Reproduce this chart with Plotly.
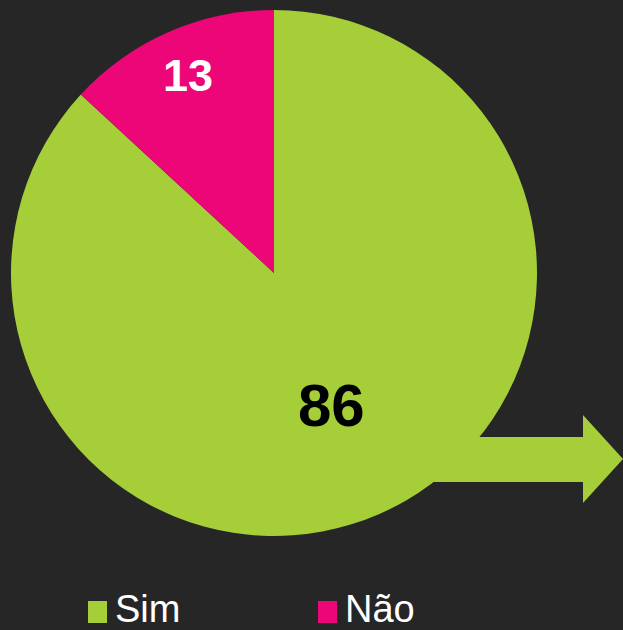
import math
import plotly.graph_objects as go

# Survey answers
labels = ["Sim", "Não"]
values = [86, 13]
colors = ["#a6ce39", "#ec0677"]
label_colors = ["#000000", "#ffffff"]
label_sizes = [60, 45]
label_radius = [0.55, 0.82]  # fraction of pie radius for the value labels

W, H = 623, 630
BG = "#262626"

# Pie geometry in pixels
cx, cy, R = 274, 273, 263


def px(x):
    return x / W


def py(y):
    return 1 - y / H


fig = go.Figure()
fig.add_trace(go.Pie(
    labels=labels,
    values=values,
    marker=dict(colors=colors, line=dict(width=0)),
    sort=False,
    direction="clockwise",
    rotation=0,
    textinfo="none",
    hoverinfo="label+value",
    showlegend=False,
    domain=dict(x=[px(cx - R), px(cx + R)], y=[py(cy + R), py(cy - R)]),
))

# Value labels at each slice's mid angle
total = sum(values)
start = 0.0
annotations = []
for v, c, s, rf in zip(values, label_colors, label_sizes, label_radius):
    mid = (start + v / 2) / total * 2 * math.pi
    start += v
    lx = cx + rf * R * math.sin(mid)
    ly = cy - rf * R * math.cos(mid)
    annotations.append(dict(
        x=px(lx), y=py(ly), xref="paper", yref="paper",
        text=f"<b>{v}</b>", showarrow=False,
        font=dict(family="Liberation Sans, Arial", size=s, color=c),
        xanchor="center", yanchor="middle",
    ))

# Arrow leaving the pie to the right (drawn behind the pie)
arrow_pts = [(400, 437), (583, 437), (583, 415), (623, 459),
             (583, 503), (583, 482), (400, 482)]
path = "M " + " L ".join(f"{px(x):.5f},{py(y):.5f}" for x, y in arrow_pts) + " Z"
shapes = [dict(type="path", path=path, xref="paper", yref="paper",
               fillcolor=colors[0], line=dict(width=0), layer="below")]

# Legend drawn as squares + text
legend_x = [88, 318]
for lx, lab, col in zip(legend_x, labels, colors):
    shapes.append(dict(type="rect", xref="paper", yref="paper",
                       x0=px(lx), x1=px(lx + 19), y0=py(623), y1=py(601),
                       fillcolor=col, line=dict(width=0)))
    annotations.append(dict(
        x=px(lx + 25), y=py(609), xref="paper", yref="paper",
        text=lab, showarrow=False, xanchor="left", yanchor="middle",
        font=dict(family="Liberation Sans, Arial", size=38, color="#ffffff"),
    ))

fig.update_layout(
    width=W, height=H,
    margin=dict(l=0, r=0, t=0, b=0),
    paper_bgcolor=BG, plot_bgcolor=BG,
    shapes=shapes, annotations=annotations,
    showlegend=False,
)

fig.write_html("out.html")
